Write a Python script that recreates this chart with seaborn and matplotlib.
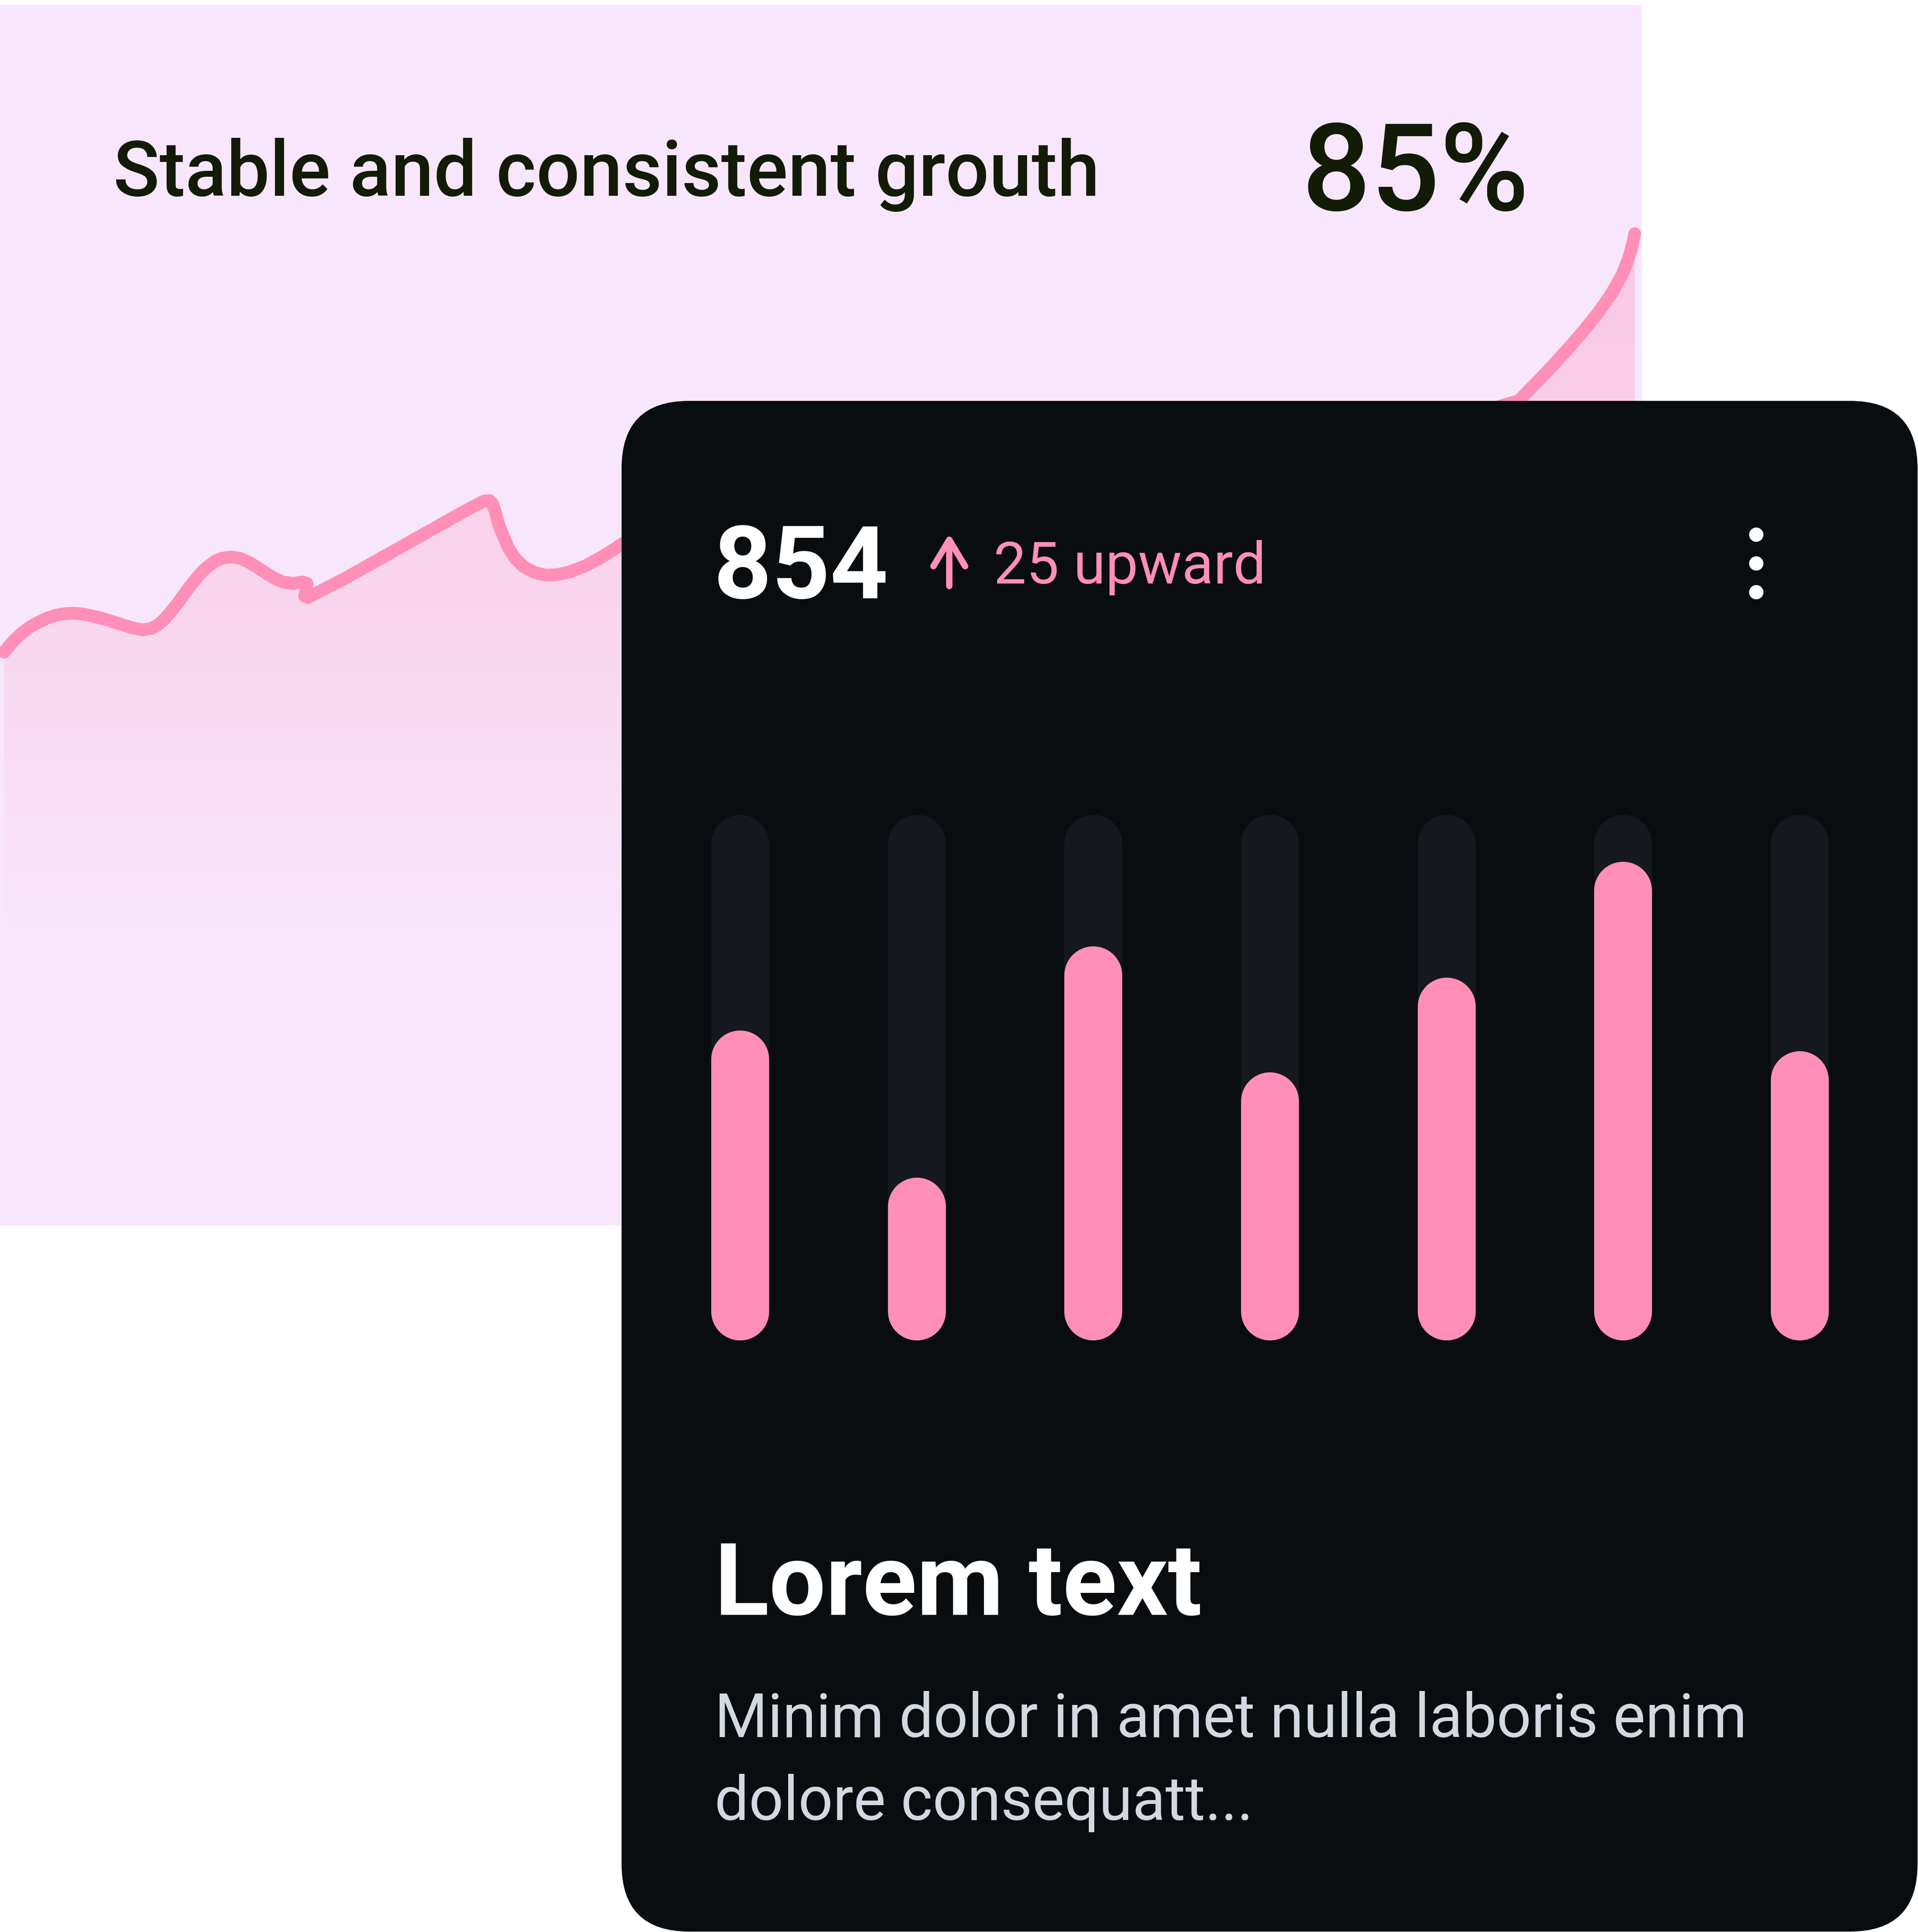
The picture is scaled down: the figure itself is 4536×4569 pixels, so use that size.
import numpy as np
import matplotlib
matplotlib.use("Agg")
import matplotlib.pyplot as plt
from matplotlib.patches import FancyBboxPatch, Rectangle
from matplotlib.colors import LinearSegmentedColormap
import seaborn as sns

growth_x = [0.26, 0.79, 1.31, 1.84, 2.37, 2.89, 3.42, 3.94, 4.47, 4.99, 5.52, 6.04,
            6.57, 7.10, 7.62, 8.15, 8.67, 9.20, 9.59, 9.99, 10.38, 10.77, 11.17, 11.56,
            11.96, 12.35, 12.75, 13.14, 13.53, 14.06, 14.59, 15.11, 15.64, 16.16, 16.69,
            17.21, 17.87, 18.40, 18.71, 18.66, 18.55, 18.76, 19.45, 21.02, 22.60, 24.18,
            25.75, 27.33, 28.38, 29.04, 29.49, 29.83, 30.01, 30.17, 30.35, 30.62, 30.96,
            31.40, 31.93, 32.59, 33.24, 33.90, 34.69, 35.61, 36.53, 37.32, 37.84,
            43.8, 59.2, 74.7, 86.3,
            92.49, 93.47, 94.46, 95.45, 96.43, 97.42, 98.20, 98.80, 99.19, 99.44, 99.56]
growth_y = [46.99, 47.85, 48.52, 49.05, 49.44, 49.78, 50.00, 50.13, 50.16, 50.11, 49.97,
            49.80, 49.60, 49.38, 49.15, 48.94, 48.81, 48.91, 49.18, 49.64, 50.24, 50.90,
            51.63, 52.36, 53.02, 53.62, 54.08, 54.46, 54.68, 54.77, 54.68, 54.38, 53.95,
            53.49, 53.05, 52.73, 52.60, 52.73, 52.60, 52.10, 51.57, 51.46, 51.94, 53.02,
            54.22, 55.41, 56.60, 57.80, 58.59, 59.06, 59.36, 59.39, 59.12, 58.46, 57.53,
            56.60, 55.54, 54.62, 53.95, 53.49, 53.29, 53.32, 53.55, 54.02, 54.68, 55.34,
            55.81,
            59.5, 61.6, 63.3, 65.1,
            67.58, 68.91, 70.30, 71.76, 73.28, 74.94, 76.46, 77.92, 79.25, 80.44, 81.27]

# weekly bars, % of the track
days = ["Mon", "Tue", "Wed", "Thu", "Fri", "Sat", "Sun"]
day_values = [59, 31, 75, 51, 69, 91, 55]
day_max = [100, 100, 100, 100, 100, 100, 100]

headline = "Stable and consistent grouth"
headline_value = "85%"
total = "854"
change = "25 upward"
card_title = "Lorem text"
card_body = ["Minim dolor in amet nulla laboris enim", "dolore consequatt..."]

PINK = "#FF8FB6"
PANEL = "#F8E6FC"
CARD = "#0A0D10"
TRACK = "#15181F"
INK = "#121B05"
BODY = "#D3D9E1"

W, H = 4536, 4569
DPI = 300


def fig_rect(x0, y0, x1, y1):
    # pixel box with top-left origin -> figure fraction
    return [x0 / W, 1 - y1 / H, (x1 - x0) / W, (y1 - y0) / H]


def pill_bars(ax, patches, zorder):
    # swap seaborn's rectangles for thick round-capped strokes of the same size
    bb = ax.get_window_extent()
    x0, x1 = ax.get_xlim()
    y0, y1 = ax.get_ylim()
    px_x = bb.width / (x1 - x0)
    px_y = bb.height / (y1 - y0)
    for p in patches:
        w = p.get_width()
        xc = p.get_x() + w / 2
        r = w * px_x / 2 / px_y
        ax.plot([xc, xc], [p.get_y() + r, p.get_y() + p.get_height() - r],
                color=p.get_facecolor(), lw=w * px_x * 72 / DPI,
                solid_capstyle="round", zorder=zorder)
        p.remove()


sns.set_style("white")
plt.rcParams["font.family"] = ["Roboto", "DejaVu Sans"]

fig = plt.figure(figsize=(W / DPI, H / DPI), dpi=DPI, facecolor="white")

# pink panel with the growth line
lax = fig.add_axes(fig_rect(0, 12, 3883, 2898), zorder=1)
lax.add_patch(Rectangle((0, 0), 1, 1, transform=lax.transAxes, color=PANEL, zorder=0))
fill = lax.fill_between(growth_x, growth_y, 0, color="none", zorder=0.5)
cmap = LinearSegmentedColormap.from_list(
    "glow", [(0, PANEL), (0.24, PANEL), (0.47, "#F9D8EF"), (0.82, "#F9C6E4"), (1, "#F9C0E0")])
grad = np.linspace(0, 1, 256).reshape(-1, 1)
img = lax.imshow(grad, extent=[0, 100, 0, 100], origin="lower", aspect="auto",
                 cmap=cmap, zorder=0.6)
img.set_clip_path(fill.get_paths()[0], transform=lax.transData)
sns.lineplot(x=growth_x, y=growth_y, ax=lax, color=PINK, sort=False, estimator=None)
for ln in lax.get_lines():
    ln.set_linewidth(7.2)
    ln.set_solid_capstyle("round")
    ln.set_solid_joinstyle("round")
    ln.set_zorder(5)
lax.set_xlim(0, 100)
lax.set_ylim(0, 100)
lax.axis("off")

# overlay in pixel units: dark card and all text
ax = fig.add_axes([0, 0, 1, 1], zorder=2)
ax.set_xlim(0, W)
ax.set_ylim(H, 0)
ax.axis("off")

ax.text(268, 463, headline, fontsize=43.5, fontweight="medium", color=INK, va="baseline")
ax.text(3078, 497, headline_value, fontsize=69, fontweight="medium", color=INK, va="baseline")

ax.add_patch(FancyBboxPatch((1470, 948), 3065, 3620, boxstyle="round,pad=0,rounding_size=160",
                            facecolor=CARD, edgecolor="none", zorder=1))

ax.text(1688, 1415, total, fontsize=57.5, fontweight="bold", color="white", va="baseline")
ax.annotate("", xy=(2245, 1262), xytext=(2245, 1386),
            arrowprops=dict(arrowstyle="->,head_length=0.75,head_width=0.45",
                            mutation_scale=20, lw=3.6, color=PINK, shrinkA=0, shrinkB=0))
ax.text(2350, 1380, change, fontsize=33, color=PINK, va="baseline")
ax.scatter([4153, 4153, 4153], [1264, 1332, 1400], s=66, color="white", linewidths=0, zorder=3)

ax.text(1690, 3819, card_title, fontsize=57, fontweight="bold", color="white", va="baseline")
for i, line in enumerate(card_body):
    ax.text(1690, 4108 + 196 * i, line, fontsize=34.5, color=BODY, va="baseline")

# bars
bax = fig.add_axes(fig_rect(1541, 1926, 4465, 3170), zorder=3)
sns.barplot(x=days, y=day_max, color=TRACK, saturation=1, width=0.328, ax=bax)
n_track = len(bax.patches)
sns.barplot(x=days, y=day_values, color=PINK, saturation=1, width=0.328, ax=bax)
bax.set_xlim(-0.5, len(days) - 0.5)
bax.set_ylim(0, 100)
bars = list(bax.patches)
pill_bars(bax, bars[:n_track], zorder=2)
pill_bars(bax, bars[n_track:], zorder=3)
bax.axis("off")

fig.savefig("out.png", dpi=DPI, facecolor="white")
